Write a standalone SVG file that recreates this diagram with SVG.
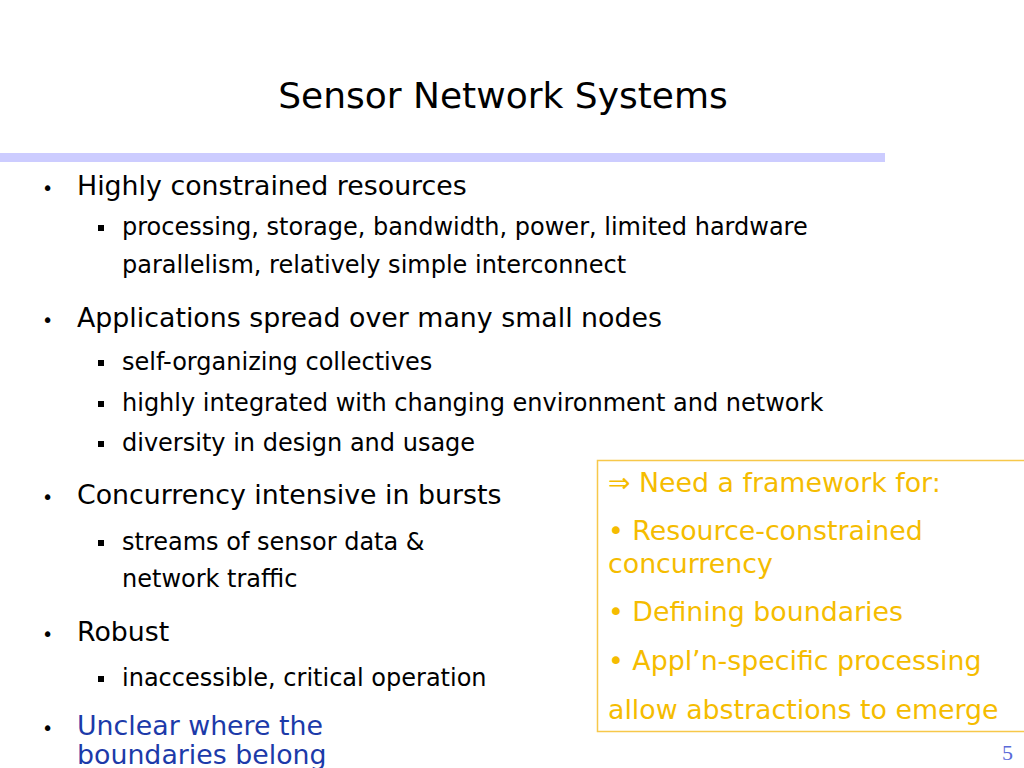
<svg xmlns="http://www.w3.org/2000/svg" width="1024" height="768" viewBox="0 0 1024 768">
<style>
text{font-family:"DejaVu Sans","Verdana","Liberation Sans",sans-serif}
.t{font-size:36px;fill:#000}
.l1{font-size:26.8px;fill:#000}
.l2{font-size:24px;fill:#000}
.b1{font-size:19px;fill:#000}
.blue{fill:#1c3aa9}
.y{font-size:26.8px;fill:#f5bc00}
.pg{font-family:"Liberation Serif",serif;font-size:22px;fill:#5a6ad8}
</style>
<rect width="1024" height="768" fill="#fff"/>
<rect x="0" y="153" width="885" height="9" fill="#ccccff"/>
<text class="t" x="503" y="108" text-anchor="middle">Sensor Network Systems</text>
<g id="bullets">
<text class="b1" x="42" y="195">•</text>
<text class="l1" x="77" y="195">Highly constrained resources</text>
<rect x="98" y="225" width="6" height="6" fill="#000"/>
<text class="l2" x="122" y="235">processing, storage, bandwidth, power, limited hardware</text>
<text class="l2" x="122" y="273">parallelism, relatively simple interconnect</text>
<text class="b1" x="42" y="327">•</text>
<text class="l1" x="77" y="327">Applications spread over many small nodes</text>
<rect x="98" y="360" width="6" height="6" fill="#000"/>
<text class="l2" x="122" y="370">self-organizing collectives</text>
<rect x="98" y="401" width="6" height="6" fill="#000"/>
<text class="l2" x="122" y="411">highly integrated with changing environment and network</text>
<rect x="98" y="441" width="6" height="6" fill="#000"/>
<text class="l2" x="122" y="451">diversity in design and usage</text>
<text class="b1" x="42" y="504">•</text>
<text class="l1" x="77" y="504">Concurrency intensive in bursts</text>
<rect x="98" y="540" width="6" height="6" fill="#000"/>
<text class="l2" x="122" y="550">streams of sensor data &amp;</text>
<text class="l2" x="122" y="587">network traffic</text>
<text class="b1" x="42" y="641">•</text>
<text class="l1" x="77" y="641">Robust</text>
<rect x="98" y="676" width="6" height="6" fill="#000"/>
<text class="l2" x="122" y="686">inaccessible, critical operation</text>
<text class="b1" x="42" y="735">•</text>
<text class="l1 blue" x="77" y="735">Unclear where the</text>
<text class="l1 blue" x="77" y="764">boundaries belong</text>
</g>
<g id="framework-box">
<rect x="597.5" y="460.5" width="440" height="271" fill="#fff" stroke="#f7c84a" stroke-width="1.5"/>
<text class="y" x="608" y="492">⇒ Need a framework for:</text>
<text class="y" x="608" y="540">• Resource-constrained</text>
<text class="y" x="608" y="573">concurrency</text>
<text class="y" x="608" y="621">• Defining boundaries</text>
<text class="y" x="608" y="670">• Appl’n-specific processing</text>
<text class="y" x="608" y="719">allow abstractions to emerge</text>
</g>
<text class="pg" x="1013" y="760" text-anchor="end">5</text>
</svg>
